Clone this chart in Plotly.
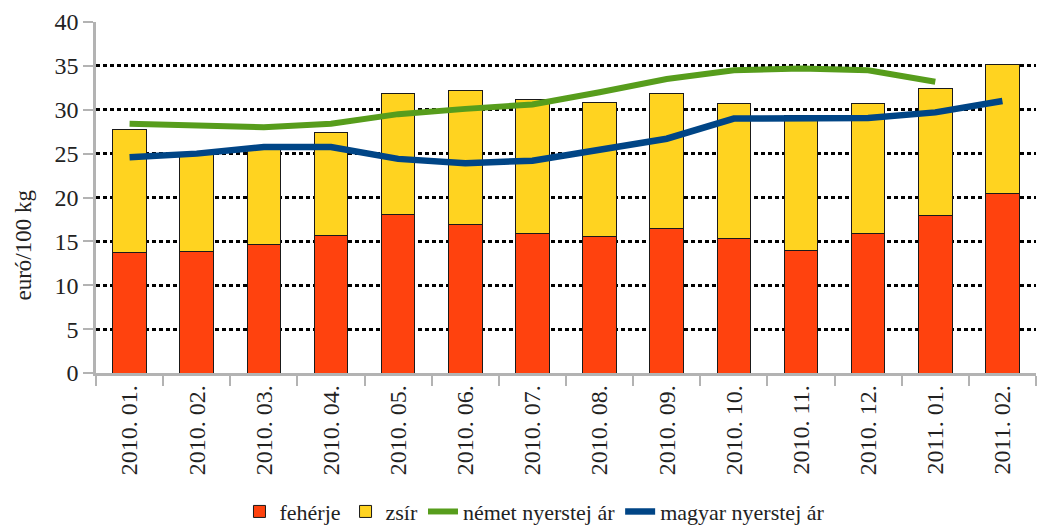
import plotly.graph_objects as go

categories = ["2010. 01.", "2010. 02.", "2010. 03.", "2010. 04.", "2010. 05.", "2010. 06.",
              "2010. 07.", "2010. 08.", "2010. 09.", "2010. 10.", "2010. 11.", "2010. 12.",
              "2011. 01.", "2011. 02."]
feherje = [13.7, 13.9, 14.6, 15.7, 18.1, 16.9, 15.9, 15.5, 16.5, 15.3, 14.0, 15.9, 17.9, 20.4]
zsir = [14.0, 11.2, 11.1, 11.7, 13.7, 15.3, 15.3, 15.3, 15.4, 15.4, 15.4, 14.8, 14.5, 14.8]
nemet = [28.4, 28.2, 28.0, 28.4, 29.5, 30.1, 30.6, 32.0, 33.5, 34.5, 34.7, 34.5, 33.2, None]
magyar = [24.6, 25.0, 25.75, 25.75, 24.4, 23.9, 24.2, 25.4, 26.7, 29.0, 29.05, 29.05, 29.7, 31.0]

FONT = "Liberation Serif, DejaVu Serif, serif"

fig = go.Figure()
fig.add_trace(go.Bar(x=categories, y=feherje, name="fehérje",
                     marker=dict(color="#ff420e", line=dict(color="#1a1a1a", width=1))))
fig.add_trace(go.Bar(x=categories, y=zsir, name="zsír",
                     marker=dict(color="#ffd320", line=dict(color="#1a1a1a", width=1))))
fig.add_trace(go.Scatter(x=categories, y=nemet, name="német nyerstej ár", mode="lines",
                         line=dict(color="#579d1c", width=6)))
fig.add_trace(go.Scatter(x=categories, y=magyar, name="magyar nyerstej ár", mode="lines",
                         line=dict(color="#004586", width=6.5)))

fig.update_layout(
    width=1038, height=529,
    margin=dict(l=96, r=2, t=22, b=156, autoexpand=False),
    paper_bgcolor="white", plot_bgcolor="white",
    barmode="stack", bargap=0.5,
    font=dict(family=FONT, size=20, color="#222222"),
    showlegend=True,
    legend=dict(orientation="h", x=0.467, xanchor="center", y=-0.395, yanchor="middle",
                traceorder="normal", font=dict(size=22, family=FONT), itemwidth=30),
    xaxis=dict(type="category", range=[-0.5, 13.5], tickangle=-90,
               showline=True, linecolor="#b3b3b3", linewidth=2.5,
               ticks="outside", tickson="boundaries", ticklen=10, tickcolor="#b3b3b3", tickwidth=2,
               showgrid=False, tickfont=dict(size=24, family=FONT)),
    yaxis=dict(range=[0, 40], dtick=5, showline=True, linecolor="#b3b3b3", linewidth=2.5,
               ticks="outside", ticklen=10, tickcolor="#b3b3b3", tickwidth=2,
               showgrid=True, gridcolor="black", gridwidth=3, griddash="4px,3px",
               zeroline=False, tickfont=dict(size=24, family=FONT)),
    annotations=[dict(text="euró/100 kg", xref="paper", yref="paper",
                      x=-0.077, y=0.365, xanchor="center", yanchor="middle",
                      textangle=-90, showarrow=False, font=dict(size=23, family=FONT))],
)

fig.write_html("out.html", config={"displayModeBar": False},
               post_script="document.body.style.margin='0';document.body.style.overflow='hidden';")
